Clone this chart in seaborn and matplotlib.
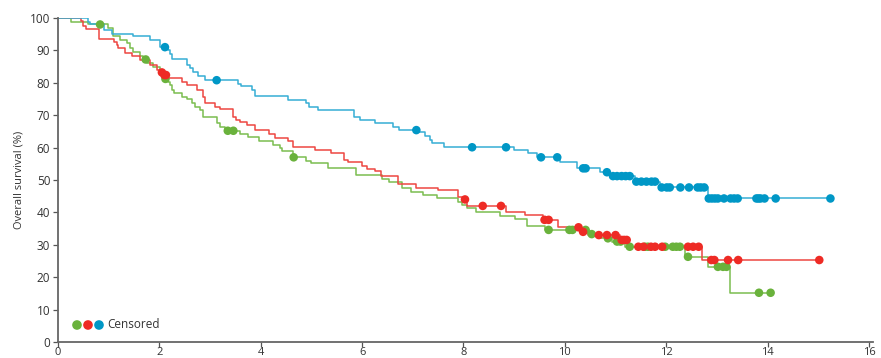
import numpy as np
import pandas as pd
import matplotlib
matplotlib.use("Agg")
import matplotlib.pyplot as plt
import seaborn as sns

# ---------------- data ----------------
blue_t = [0, 0.59, 0.63, 0.91, 1.07, 1.48, 1.81, 2.01, 2.17, 2.21, 2.25, 2.54, 2.60, 2.66, 2.76, 2.90,
          3.55, 3.61, 3.83, 3.89, 4.54, 4.89, 4.95, 5.13, 5.84, 5.96, 6.25, 6.61, 6.73, 7.10, 7.24, 7.34,
          7.38, 7.61, 8.99, 9.27, 9.45, 9.90, 10.24, 10.69, 10.89, 11.38, 11.87, 12.82]
blue_s = [100, 98.9, 98.0, 96.3, 95.0, 94.3, 93.2, 91.0, 90.1, 88.8, 87.3, 85.5, 84.5, 83.4, 82.1, 80.8,
          79.6, 79.0, 77.8, 75.9, 74.7, 73.7, 72.6, 71.6, 69.5, 68.5, 67.5, 66.5, 65.4, 64.9, 63.6, 62.3,
          61.5, 60.1, 59.3, 58.2, 57.0, 55.6, 53.6, 52.4, 51.2, 49.5, 47.7, 44.3]
blue_end = 15.24
blue_cens = [2.11, 3.13, 7.07, 8.17, 8.84, 9.53, 9.85, 10.36, 10.41, 10.83, 10.95, 11.03, 11.12, 11.20,
             11.28, 11.41, 11.51, 11.61, 11.71, 11.78, 11.91, 12.01, 12.07, 12.28, 12.45, 12.62, 12.68,
             12.75, 12.84, 12.90, 12.96, 13.02, 13.14, 13.27, 13.34, 13.41, 13.78, 13.82, 13.86, 13.94,
             14.16, 15.24]

red_t = [0, 0.45, 0.49, 0.56, 0.81, 1.11, 1.16, 1.18, 1.32, 1.46, 1.62, 1.81, 1.95, 2.01, 2.08, 2.15,
         2.44, 2.54, 2.74, 2.86, 2.90, 3.10, 3.20, 3.45, 3.51, 3.59, 3.73, 3.89, 4.16, 4.28, 4.54, 4.64,
         5.07, 5.38, 5.64, 5.72, 6.00, 6.09, 6.25, 6.37, 6.71, 7.06, 7.50, 7.89, 7.99, 8.07, 8.84, 9.21,
         9.57, 9.86, 10.32, 10.45, 11.08, 11.24, 12.70]
red_s = [100, 99.0, 97.5, 96.5, 93.4, 92.7, 91.7, 90.6, 89.1, 88.2, 87.0, 85.5, 84.0, 83.2, 82.4, 81.6,
         80.3, 79.3, 77.8, 75.5, 73.7, 72.6, 71.8, 69.5, 68.5, 67.8, 67.0, 65.4, 64.2, 63.1, 62.0, 60.1,
         59.3, 58.2, 56.2, 55.6, 54.3, 53.3, 52.9, 51.3, 48.7, 47.6, 46.9, 44.7, 44.0, 42.0, 40.0, 39.2,
         37.7, 35.4, 34.0, 33.0, 31.5, 29.4, 25.3]
red_end = 15.02
red_cens = [2.05, 2.10, 2.13, 8.03, 8.38, 8.74, 9.60, 9.68, 10.27, 10.36, 10.67, 10.83, 11.00, 11.12,
            11.17, 11.22, 11.45, 11.55, 11.70, 11.78, 11.92, 12.43, 12.53, 12.64, 12.89, 12.95, 13.22,
            13.42, 15.02]

green_t = [0, 0.25, 0.59, 0.99, 1.08, 1.22, 1.36, 1.42, 1.48, 1.62, 1.68, 1.76, 1.87, 2.01, 2.07, 2.11,
           2.17, 2.21, 2.25, 2.29, 2.45, 2.54, 2.64, 2.70, 2.80, 2.86, 3.14, 3.20, 3.29, 3.59, 3.75, 3.96,
           4.24, 4.38, 4.42, 4.64, 4.89, 4.99, 5.33, 5.88, 6.39, 6.53, 6.79, 6.96, 7.20, 7.48, 7.89, 7.97,
           8.07, 8.24, 8.72, 9.01, 9.25, 9.61, 10.47, 10.69, 10.93, 11.18, 12.37, 12.83, 13.25]
green_s = [100, 98.9, 98.0, 96.8, 94.5, 93.2, 92.2, 90.6, 89.4, 88.3, 87.2, 86.0, 84.9, 83.7, 82.4, 81.2,
           80.3, 79.3, 77.8, 76.9, 75.7, 74.9, 73.7, 72.6, 71.6, 69.3, 67.5, 66.5, 65.2, 64.2, 63.2, 62.1,
           60.8, 59.8, 59.0, 57.0, 56.0, 55.1, 53.7, 51.5, 50.3, 49.5, 47.6, 46.4, 45.4, 44.5, 43.3, 42.3,
           41.3, 40.1, 39.0, 37.9, 35.8, 34.6, 33.3, 32.0, 31.0, 29.4, 26.3, 23.2, 15.2]
green_end = 14.06
green_cens = [0.83, 1.73, 2.12, 3.35, 3.46, 4.65, 9.68, 10.09, 10.15, 10.41, 10.53, 10.85, 11.03, 11.10,
              11.28, 11.58, 11.64, 11.98, 12.13, 12.20, 12.27, 12.43, 13.02, 13.12, 13.19, 13.83, 14.06]

x_ticks = [0, 2, 4, 6, 8, 10, 12, 14, 16]
y_ticks = [0, 10, 20, 30, 40, 50, 60, 70, 80, 90, 100]
y_label = "Overall survival (%)"
legend_label = "Censored"

line_colors = {"green": "#7bbd4f", "red": "#ee4641", "blue": "#35aed4"}
mark_colors = {"green": "#6ab23c", "red": "#ee2b25", "blue": "#0097c6"}

# ---------------- style ----------------
sns.set_style("ticks")
plt.rcParams["font.family"] = ["Open Sans", "DejaVu Sans"]

fig = plt.figure(figsize=(8.81, 3.58), dpi=100)
ax = fig.add_axes([58 / 881, 16 / 358, 815 / 881, 324 / 358])

curves = [
    ("green", green_t, green_s, green_end, green_cens),
    ("red", red_t, red_s, red_end, red_cens),
    ("blue", blue_t, blue_s, blue_end, blue_cens),
]

for name, t, s, end, cens in curves:
    tt = list(t) + [end]
    ss = list(s) + [s[-1]]
    df = pd.DataFrame({"t": tt, "s": ss})
    sns.lineplot(data=df, x="t", y="s", drawstyle="steps-post", estimator=None,
                 color=line_colors[name], lw=1.1, ax=ax, zorder=2)

for name, t, s, end, cens in curves:
    idx = np.searchsorted(np.array(t), np.array(cens), side="right") - 1
    cs = np.array(s)[idx]
    dfc = pd.DataFrame({"t": cens, "s": cs})
    sns.scatterplot(data=dfc, x="t", y="s", color=mark_colors[name], s=38,
                    edgecolor="none", linewidth=0, ax=ax, zorder=3)

# legend
for i, name in enumerate(["green", "red", "blue"]):
    ax.scatter([0.0233 + i * 0.0135], [0.0525], s=48, color=mark_colors[name],
               edgecolor="none", transform=ax.transAxes, clip_on=False, zorder=4)
ax.text(0.0605, 0.0525, legend_label, transform=ax.transAxes, ha="left", va="center",
        fontsize=8.5, color="#333333")

ax.set_xlim(0, 16.08)
ax.set_ylim(0, 100)
ax.set_xticks(x_ticks)
ax.set_xticklabels([str(v) for v in x_ticks])
ax.set_yticks(y_ticks)
ax.set_yticklabels([str(v) for v in y_ticks])
ax.set_xlabel("")
ax.set_ylabel(y_label, fontsize=8, color="#333333", labelpad=4)
ax.tick_params(axis="both", labelsize=8.5, colors="#555555", labelcolor="#333333",
               length=3.5, width=0.9, pad=2)
ax.tick_params(axis="x", pad=0.3, labelsize=8)
sns.despine(ax=ax)
for sp in ["left", "bottom"]:
    ax.spines[sp].set_color("#666666")
    ax.spines[sp].set_linewidth(1.3)

fig.savefig("out.png", dpi=100)
